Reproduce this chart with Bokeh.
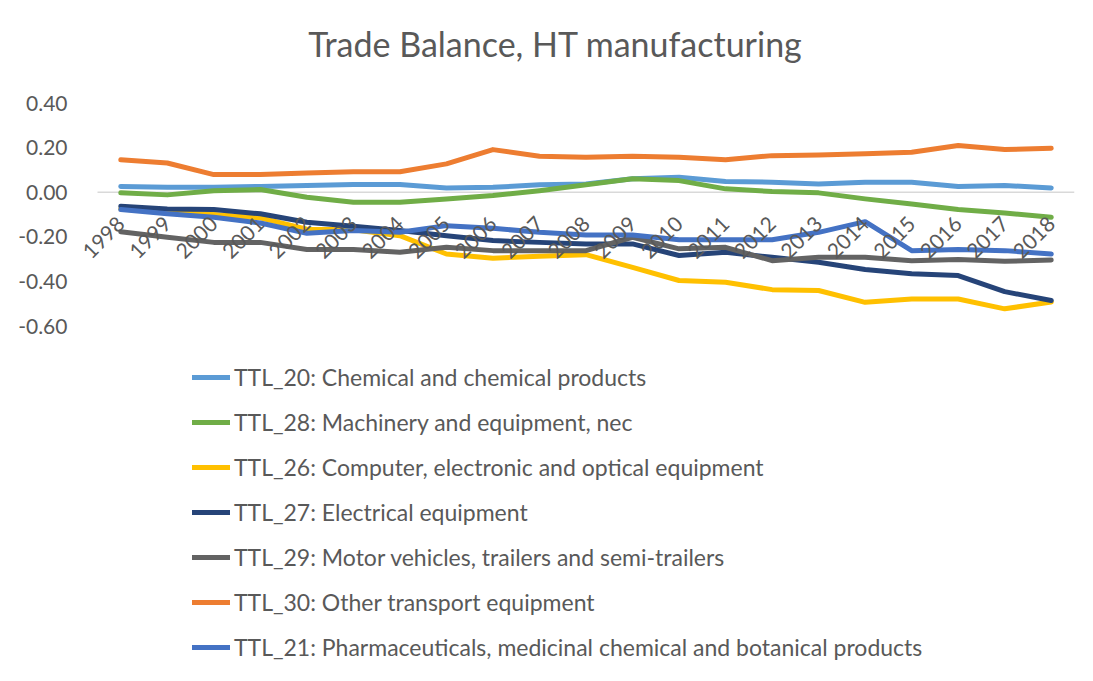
import math
from bokeh.plotting import figure
from bokeh.models import (Range1d, FixedTicker, NumeralTickFormatter, Legend, LegendItem, Label)
from bokeh.embed import file_html
from bokeh.resources import INLINE

years = list(range(1998, 2019))
ttl_20 = [0.026, 0.022, 0.022, 0.026, 0.030, 0.034, 0.034, 0.019, 0.022, 0.033, 0.037,
          0.060, 0.067, 0.048, 0.045, 0.037, 0.045, 0.045, 0.026, 0.030, 0.019]
ttl_28 = [-0.003, -0.012, 0.006, 0.012, -0.023, -0.045, -0.045, -0.030, -0.015, 0.007, 0.033,
          0.060, 0.052, 0.015, 0.003, -0.003, -0.030, -0.053, -0.078, -0.093, -0.112]
ttl_26 = [-0.075, -0.090, -0.100, -0.115, -0.166, -0.168, -0.195, -0.277, -0.296, -0.287, -0.280,
          -0.337, -0.396, -0.404, -0.437, -0.441, -0.494, -0.479, -0.479, -0.523, -0.492]
ttl_27 = [-0.063, -0.075, -0.078, -0.097, -0.135, -0.153, -0.172, -0.195, -0.217, -0.225, -0.232,
          -0.232, -0.284, -0.269, -0.292, -0.314, -0.347, -0.366, -0.374, -0.446, -0.486]
ttl_29 = [-0.177, -0.202, -0.225, -0.225, -0.257, -0.257, -0.269, -0.247, -0.262, -0.262, -0.262,
          -0.202, -0.254, -0.247, -0.307, -0.292, -0.292, -0.307, -0.302, -0.310, -0.304]
ttl_30 = [0.145, 0.131, 0.079, 0.079, 0.086, 0.092, 0.092, 0.127, 0.191, 0.161, 0.157,
          0.161, 0.157, 0.146, 0.164, 0.167, 0.172, 0.179, 0.209, 0.191, 0.197]
ttl_21 = [-0.078, -0.097, -0.112, -0.138, -0.184, -0.172, -0.180, -0.150, -0.162, -0.180, -0.192,
          -0.192, -0.213, -0.213, -0.213, -0.180, -0.132, -0.262, -0.257, -0.262, -0.277]

series_names = [
    "TTL_20: Chemical and chemical products",
    "TTL_28: Machinery and equipment, nec",
    "TTL_26: Computer, electronic and optical equipment",
    "TTL_27: Electrical equipment",
    "TTL_29: Motor vehicles, trailers and semi-trailers",
    "TTL_30: Other transport equipment",
    "TTL_21: Pharmaceuticals, medicinal chemical and botanical products",
]
series_values = [ttl_20, ttl_28, ttl_26, ttl_27, ttl_29, ttl_30, ttl_21]
series_colors = ["#5B9BD5", "#70AD47", "#FFC000", "#264478", "#636363", "#ED7D31", "#4472C4"]
y_ticks = [-0.6, -0.4, -0.2, 0.0, 0.2, 0.4]
title_text = "Trade Balance, HT manufacturing"

FONT = "Lato"
GRAY = "#595959"

W, H = 1091, 679
frame_left, frame_right = 78, 1074        # pixel edges of the drawing area
cat_left = 97                              # left edge of the first category slot
n_cat = len(years)
px_per_year = (frame_right - cat_left) / n_cat
zero_px = 191.7
px_per_unit = 223.0
y_top = zero_px / px_per_unit
y_bot = -(H - zero_px) / px_per_unit
x_end = years[-1] + 0.5
x_start = years[0] - 0.5 - (cat_left - frame_left) / px_per_year

p = figure(width=W, height=H, output_backend="svg", toolbar_location=None,
           x_range=Range1d(x_start, x_end), y_range=Range1d(y_bot, y_top),
           min_border_left=frame_left, min_border_right=W - frame_right,
           min_border_top=0, min_border_bottom=0)
p.outline_line_color = None
p.xgrid.visible = False
p.ygrid.visible = False

# zero line across the category slots
p.segment(x0=[years[0] - 0.5], y0=[0], x1=[years[-1] + 0.5], y1=[0],
          line_color="#D9D9D9", line_width=1.5)

# x axis at zero (labels only)
xa = p.xaxis[0]
xa.fixed_location = 0
xa.ticker = FixedTicker(ticks=years)
xa.major_label_orientation = math.pi / 4
xa.axis_line_color = None
xa.major_tick_line_color = None
xa.minor_tick_line_color = None
xa.major_label_text_font = FONT
xa.major_label_text_font_size = "21px"
xa.major_label_text_color = GRAY
xa.major_label_standoff = 22

ya = p.yaxis[0]
ya.ticker = FixedTicker(ticks=y_ticks)
ya.formatter = NumeralTickFormatter(format="0.00")
ya.axis_line_color = None
ya.major_tick_line_color = None
ya.minor_tick_line_color = None
ya.major_label_text_font = FONT
ya.major_label_text_font_size = "21px"
ya.major_label_text_color = GRAY
ya.major_label_standoff = 5

items = []
for name, vals, col in zip(series_names, series_values, series_colors):
    r = p.line(years, vals, line_color=col, line_width=5,
               line_cap="round", line_join="round")
    items.append(LegendItem(label=name, renderers=[r]))

legend = Legend(items=items, location=(192 - frame_left, 18), orientation="vertical",
                glyph_width=38, glyph_height=24, label_height=24, spacing=17,
                label_standoff=4, padding=0, margin=0,
                border_line_color=None, background_fill_alpha=0,
                label_text_font=FONT, label_text_font_size="23px",
                label_text_color=GRAY)
p.add_layout(legend)

# title centred on the chart
title_x = x_start + (555 - frame_left) / px_per_year
title_y = y_top - 43 / px_per_unit
p.add_layout(Label(x=title_x, y=title_y, text=title_text, text_align="center",
                   text_baseline="middle", text_font=FONT, text_font_size="34px",
                   text_color=GRAY))

open("out.html", "w").write(file_html(p, INLINE))
